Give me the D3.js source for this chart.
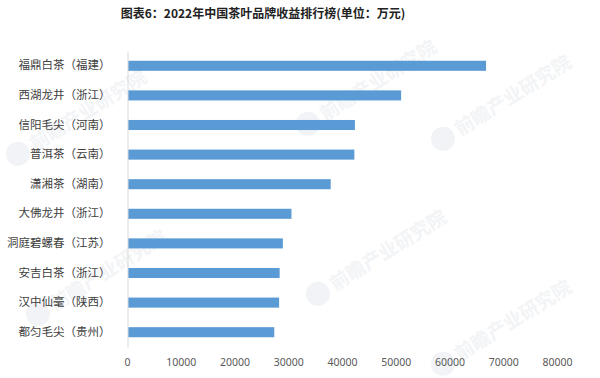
<!DOCTYPE html>
<html>
<head>
<meta charset="utf-8">
<script src="https://cdn.jsdelivr.net/npm/d3@7"></script>
<style>
  body { margin: 0; background: #fff; }
  svg { display: block; font-family: "Noto Sans CJK SC", "Noto Sans", sans-serif; }
</style>
</head>
<body>
<svg id="chart" width="600" height="378"></svg>
<script>
// brands, top to bottom
var brands = ["福鼎白茶（福建）", "西湖龙井（浙江）", "信阳毛尖（河南）", "普洱茶（云南）", "潇湘茶（湖南）",
  "大佛龙井（浙江）", "洞庭碧螺春（江苏）", "安吉白茶（浙江）", "汉中仙毫（陕西）", "都匀毛尖（贵州）"];
// revenue, 万元
var revenue = [66800, 51000, 42400, 42300, 37900, 30600, 29000, 28400, 28300, 27400];
var xTicks = [0, 10000, 20000, 30000, 40000, 50000, 60000, 70000, 80000];
var titleText = "图表6：2022年中国茶叶品牌收益排行榜(单位：万元)";

var width = 600, height = 378;
var svg = d3.select("#chart");

// faint watermarks
var marks = [[40, 140], [330, 110], [465, 125], [60, 300], [340, 280], [465, 350]];
var wm = svg.append("g").attr("class", "watermark");
marks.forEach(function(p) {
  var g = wm.append("g").attr("transform", "translate(" + p[0] + "," + p[1] + ") rotate(-32)");
  g.append("circle").attr("cx", -26).attr("cy", 0).attr("r", 12).attr("fill", "#f1f3f6");
  g.append("text").attr("x", -10).attr("y", 7).text("前瞻产业研究院")
    .attr("fill", "#f2f4f6").style("font-size", "19px").style("font-weight", "bold");
});

var x = d3.scaleLinear().domain([0, 80000]).range([127, 557]);
var y = d3.scaleBand().domain(brands).range([51, 347]).paddingInner(0.66).paddingOuter(0.33);

// title
svg.append("text")
  .attr("x", 263).attr("y", 18)
  .attr("text-anchor", "middle")
  .style("font-size", "12px").style("font-weight", "bold").style("fill", "#222")
  .text(titleText);

// bars
svg.append("g").selectAll("rect")
  .data(brands)
  .enter().append("rect")
  .attr("x", x(0) + 1)
  .attr("y", function(d) { return y(d); })
  .attr("height", y.bandwidth())
  .attr("width", function(d, i) { return x(revenue[i]) - x(0) - 1; })
  .attr("fill", "#5b9bd5");

// vertical category axis
var yAxis = svg.append("g")
  .attr("transform", "translate(" + (x(0) + 0.5) + ",0)")
  .call(d3.axisLeft(y).tickSize(0).tickPadding(17));
yAxis.select(".domain").attr("stroke", "#d9d9d9");
yAxis.selectAll("text").style("font-size", "11.5px").style("fill", "#404040")
  .style("font-family", "'Noto Sans CJK SC', sans-serif");

// value axis labels
var xAxis = svg.append("g")
  .attr("transform", "translate(0,347)")
  .call(d3.axisBottom(x).tickValues(xTicks).tickSize(0).tickPadding(12).tickFormat(d3.format("d")));
xAxis.select(".domain").remove();
xAxis.selectAll("text").style("font-size", "10.5px").style("fill", "#595959")
  .style("font-family", "'Noto Sans', sans-serif");
</script>
</body>
</html>
